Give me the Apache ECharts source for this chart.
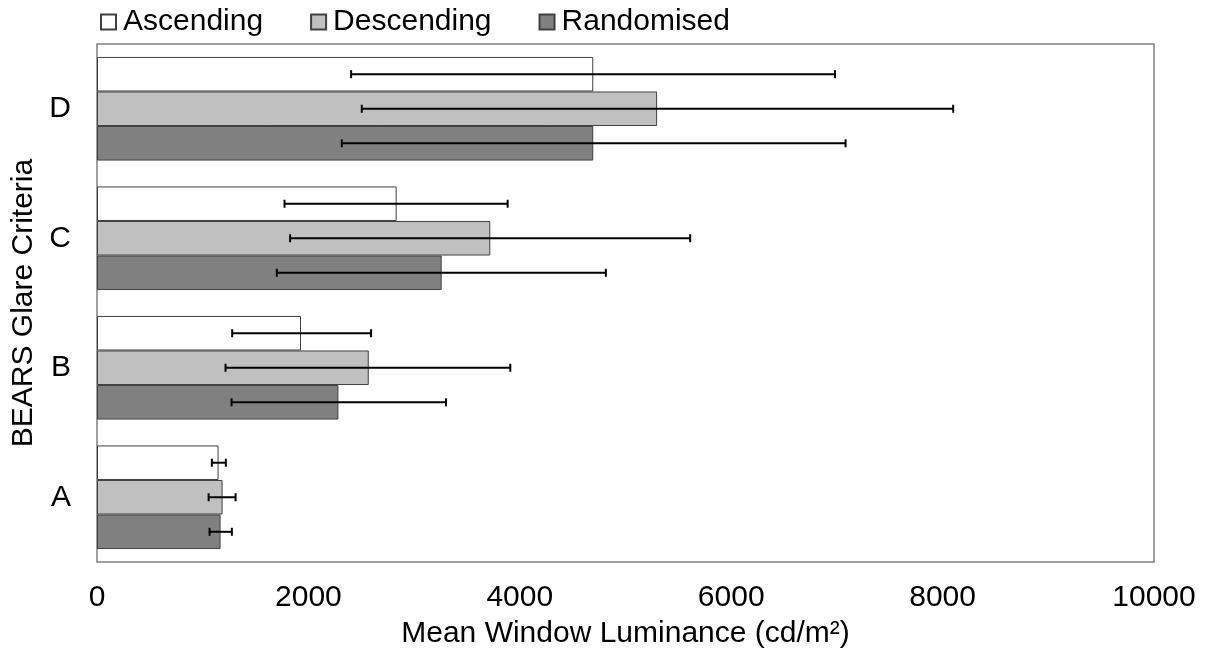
<!DOCTYPE html>
<html>
<head>
<meta charset="utf-8">
<script src="https://cdn.jsdelivr.net/npm/echarts@6/dist/echarts.min.js"></script>
<style>
  html, body { margin: 0; padding: 0; background: #fff; }
  #chart { width: 1206px; height: 655px; }
</style>
</head>
<body>
<div id="chart"></div>
<script>
// criteria, bottom to top
const categories = ['A', 'B', 'C', 'D'];
const seriesNames = ['Ascending', 'Descending', 'Randomised'];

// mean window luminance (cd/m2)
const ascending = [1150, 1930, 2835, 4695];
const descending = [1188, 2571, 3721, 5299];
const randomised = [1169, 2284, 3261, 4695];

// error bar ends (low / high)
const ascendingLow = [1087, 1279, 1774, 2404];
const ascendingHigh = [1219, 2593, 3885, 6982];
const descendingLow = [1056, 1216, 1827, 2505];
const descendingHigh = [1311, 3910, 5612, 8100];
const randomisedLow = [1065, 1273, 1701, 2316];
const randomisedHigh = [1276, 3302, 4814, 7082];

const xTicks = [0, 2000, 4000, 6000, 8000, 10000];

const fills = ['#ffffff', '#c0c0c0', '#808080'];
const FONT = '"Liberation Sans", Arial, sans-serif';

const chart = echarts.init(document.getElementById('chart'));

// error bar rows: [category index, low, high, series index]
const errRows = [];
[[ascendingLow, ascendingHigh], [descendingLow, descendingHigh], [randomisedLow, randomisedHigh]]
  .forEach(function (pair, s) {
    categories.forEach(function (c, i) {
      errRows.push([i, pair[0][i], pair[1][i], s]);
    });
  });

// bars share 80% of the band (barCategoryGap 20%, barGap 0)
function renderErr(params, api) {
  const cat = api.value(0);
  const s = api.value(3);
  const band = api.size([0, 1])[1];
  const center = api.coord([0, cat])[1];
  const y = center - band * 0.4 + (band * 0.8 / 3) * (s + 0.5);
  const x1 = api.coord([api.value(1), cat])[0];
  const x2 = api.coord([api.value(2), cat])[0];
  const cap = 4;
  const st = { stroke: '#000', lineWidth: 2 };
  return {
    type: 'group',
    children: [
      { type: 'line', shape: { x1: x1, y1: y, x2: x2, y2: y }, style: st },
      { type: 'line', shape: { x1: x1, y1: y - cap, x2: x1, y2: y + cap }, style: st },
      { type: 'line', shape: { x1: x2, y1: y - cap, x2: x2, y2: y + cap }, style: st }
    ]
  };
}

const values = [ascending, descending, randomised];

const option = {
  animation: false,
  textStyle: { fontFamily: FONT, color: '#000' },
  legend: {
    data: seriesNames,
    left: 95,
    top: 2,
    icon: 'rect',
    itemWidth: 15,
    itemHeight: 15,
    itemGap: 47,
    textStyle: { fontFamily: FONT, fontSize: 30, color: '#000', padding: [0, 0, 0, 2] }
  },
  grid: {
    left: 97,
    right: 52,
    top: 44,
    bottom: 93,
    outerBoundsMode: 'none',
    show: true,
    borderColor: '#808080',
    borderWidth: 1.5,
    backgroundColor: '#fff'
  },
  xAxis: {
    type: 'value',
    min: 0,
    max: 10000,
    interval: 2000,
    name: 'Mean Window Luminance (cd/m²)',
    nameLocation: 'middle',
    nameGap: 57,
    nameTextStyle: { fontFamily: FONT, fontSize: 30, color: '#000' },
    axisLine: { show: false },
    axisTick: { show: false },
    splitLine: { show: false },
    axisLabel: {
      fontFamily: FONT, fontSize: 30, color: '#000', margin: 21,
      formatter: function (v) { return xTicks.indexOf(v) >= 0 ? String(v) : ''; }
    }
  },
  yAxis: {
    type: 'category',
    data: categories,
    name: 'BEARS Glare Criteria',
    nameLocation: 'middle',
    nameGap: 53,
    nameTextStyle: { fontFamily: FONT, fontSize: 30, color: '#000' },
    axisLine: { show: false },
    axisTick: { show: false },
    axisLabel: { fontFamily: FONT, fontSize: 30, color: '#000', margin: 26 }
  },
  series: seriesNames.map(function (name, s) {
    return {
      name: name,
      type: 'bar',
      data: values[s],
      barGap: '0%',
      barCategoryGap: '20%',
      itemStyle: { color: fills[s], borderColor: '#404040', borderWidth: 1 },
      z: 2
    };
  }).concat([{
    type: 'custom',
    renderItem: renderErr,
    data: errRows,
    encode: { x: [1, 2], y: 0 },
    z: 5,
    silent: true
  }])
};

chart.setOption(option);
</script>
</body>
</html>
